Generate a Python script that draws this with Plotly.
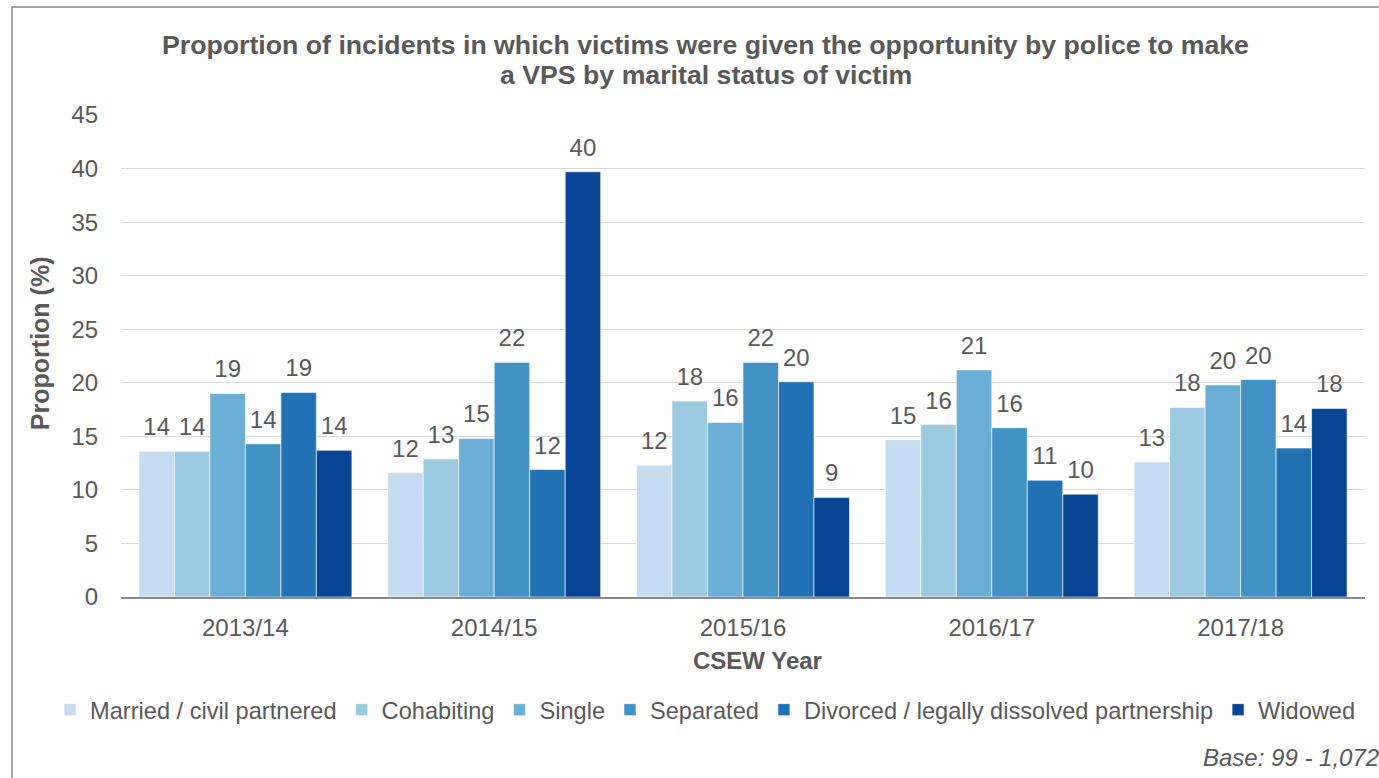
import plotly.graph_objects as go

years = ["2013/14", "2014/15", "2015/16", "2016/17", "2017/18"]
series_names = ["Married / civil partnered", "Cohabiting", "Single", "Separated",
                "Divorced / legally dissolved partnership", "Widowed"]
married = [13.6, 11.6, 12.3, 14.7, 12.6]
cohabiting = [13.6, 12.9, 18.3, 16.1, 17.7]
single = [19.0, 14.8, 16.3, 21.2, 19.8]
separated = [14.3, 21.9, 21.9, 15.8, 20.3]
divorced = [19.1, 11.9, 20.1, 10.9, 13.9]
widowed = [13.7, 39.7, 9.3, 9.6, 17.6]
series_values = [married, cohabiting, single, separated, divorced, widowed]
colors = ["#C6DBEF", "#9ECAE1", "#6BAED6", "#4292C6", "#2171B5", "#084594"]
y_ticks = [0, 5, 10, 15, 20, 25, 30, 35, 40, 45]
title_lines = ["Proportion of incidents in which victims were given the opportunity by police to make",
               "a VPS by marital status of victim"]

FONT = "Liberation Sans, Arial, sans-serif"
GREY = "#595959"
LABEL_LIFT = 0.75  # extra space (axis units) between bar top and its value label

fig = go.Figure()
for i, (name, vals, col) in enumerate(zip(series_names, series_values, colors)):
    fig.add_trace(go.Bar(
        x=years, y=vals, name=name, offsetgroup=str(i),
        marker=dict(color=col, line=dict(color="white", width=0.6)),
        hoverinfo="x+y+name",
    ))
for i, vals in enumerate(series_values):
    fig.add_trace(go.Bar(
        x=years, y=[LABEL_LIFT] * len(vals), base=vals, offsetgroup=str(i),
        marker=dict(color="rgba(0,0,0,0)", line=dict(width=0)),
        text=[f"{round(v):d}" for v in vals],
        textposition="outside", cliponaxis=False, constraintext="none",
        textfont=dict(family=FONT, size=24, color=GREY),
        showlegend=False, hoverinfo="skip",
    ))

fig.update_layout(
    width=1379, height=778,
    margin=dict(l=121, r=14, t=115, b=181),
    paper_bgcolor="white", plot_bgcolor="white",
    barmode="group", bargap=0.144, bargroupgap=0,
    font=dict(family=FONT, size=24, color=GREY),
    showlegend=True,
    legend=dict(orientation="h", x=-0.057, xanchor="left", y=-0.234, yanchor="middle",
                font=dict(family=FONT, size=23.6, color=GREY),
                itemwidth=30, tracegroupgap=0, traceorder="normal"),
)
fig.update_xaxes(
    showgrid=False, showline=True, linecolor="#898989", linewidth=1.5,
    ticks="outside", ticklen=8, tickcolor="white",
    tickfont=dict(family=FONT, size=24, color=GREY),
)
fig.update_yaxes(
    range=[0, 45], tickvals=y_ticks, showgrid=True, gridcolor="#D9D9D9", gridwidth=1.3,
    zeroline=False, showline=False,
    ticks="outside", ticklen=17, tickcolor="white",
    tickfont=dict(family=FONT, size=24, color=GREY),
)

for line, ypix in zip(title_lines, [45, 75]):
    fig.add_annotation(
        text=f"<b>{line}</b>",
        xref="paper", yref="paper", x=0.470, y=(597 - ypix) / 482,
        xanchor="center", yanchor="middle",
        showarrow=False, font=dict(family=FONT, size=26.7, color=GREY))
fig.add_annotation(text="<b>Proportion (%)</b>", textangle=-90, xref="paper", yref="paper",
                   x=-0.065, y=0.527, xanchor="center", yanchor="middle", showarrow=False,
                   font=dict(family=FONT, size=25, color=GREY))
fig.add_annotation(text="<b>CSEW Year</b>", xref="paper", yref="paper",
                   x=0.512, y=-0.131, xanchor="center", yanchor="middle", showarrow=False,
                   font=dict(family=FONT, size=24, color=GREY))
fig.add_annotation(text="<i>Base: 99 - 1,072</i>", xref="paper", yref="paper",
                   x=1.0125, y=-0.332, xanchor="right", yanchor="middle", showarrow=False,
                   font=dict(family=FONT, size=24, color=GREY))

# chart frame
fig.add_shape(type="rect", xref="paper", yref="paper",
              x0=(12 - 121) / 1244, x1=(1400 - 121) / 1244,
              y0=(597 - 800) / 482, y1=(597 - 7) / 482,
              line=dict(color="#898989", width=1.5), fillcolor="rgba(0,0,0,0)", layer="below")

fig.write_html("out.html", config={"displayModeBar": False},
               post_script="document.body.style.margin='0';")
